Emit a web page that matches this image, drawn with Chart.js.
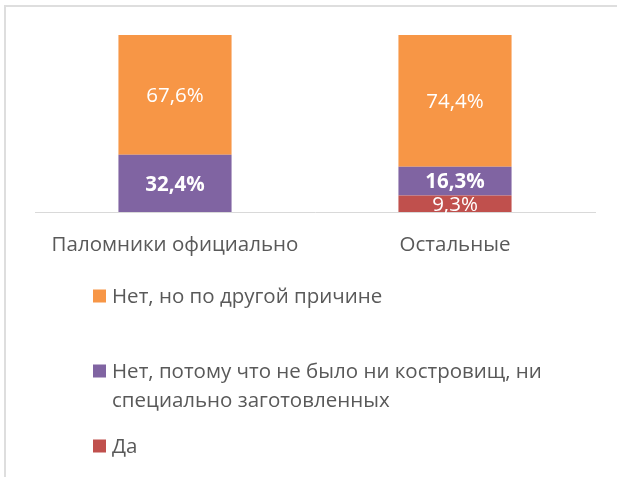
<!DOCTYPE html>
<html>
<head>
<meta charset="utf-8">
<script src="https://cdn.jsdelivr.net/npm/chart.js@4/dist/chart.umd.min.js"></script>
<style>
html,body{margin:0;padding:0;background:#fff;}
#wrap{width:617px;height:477px;position:relative;}
</style>
</head>
<body>
<div id="wrap"><canvas id="c" width="617" height="477"></canvas></div>
<script>
const categories = ['Паломники официально', 'Остальные'];
const seriesNames = ['Да', 'Нет, потому что не было ни костровищ, ни специально заготовленных', 'Нет, но по другой причине'];
const valuesDa = [0, 9.3];
const valuesNoPlaces = [32.4, 16.3];
const valuesOther = [67.6, 74.4];
const legendOrder = [2, 1, 0];

const colors = ['#C0504D', '#8064A2', '#F79646'];
const boldLabels = [false, true, false];
const FONT = '"Open Sans", sans-serif';
const TEXT = '#595959';
const FS = 20.5;

Chart.defaults.font.family = FONT;

const framePlugin = {
  id: 'frame',
  beforeDraw(chart) {
    const ctx = chart.ctx;
    ctx.save();
    ctx.fillStyle = '#fff';
    ctx.fillRect(0, 0, chart.width, chart.height);
    ctx.strokeStyle = '#dedede';
    ctx.lineWidth = 2;
    ctx.beginPath();
    ctx.moveTo(5, chart.height);
    ctx.lineTo(5, 6);
    ctx.lineTo(chart.width, 6);
    ctx.stroke();
    ctx.restore();
  }
};

const labelPlugin = {
  id: 'valueLabels',
  afterDatasetsDraw(chart) {
    const ctx = chart.ctx;
    ctx.save();
    ctx.textAlign = 'center';
    ctx.textBaseline = 'middle';
    ctx.fillStyle = '#ffffff';
    chart.data.datasets.forEach((ds, di) => {
      const meta = chart.getDatasetMeta(di);
      meta.data.forEach((el, i) => {
        const v = ds.data[i];
        if (!v) return;
        const txt = v.toFixed(1).replace('.', ',') + '%';
        ctx.font = (boldLabels[di] ? 'bold ' : '') + FS + 'px ' + FONT;
        const cy = (el.y + el.base) / 2;
        ctx.fillText(txt, el.x, cy + 1.5);
      });
    });
    ctx.restore();
  }
};

const legendPlugin = {
  id: 'customLegend',
  afterDraw(chart) {
    const ctx = chart.ctx;
    ctx.save();
    ctx.font = FS + 'px ' + FONT;
    ctx.textBaseline = 'middle';
    ctx.textAlign = 'left';
    const x0 = 93, tx = 112, y0 = 296, step = 75, lh = 29.5, maxW = 440;
    legendOrder.forEach((di, k) => {
      const ds = chart.data.datasets[di];
      const y = y0 + k * step;
      ctx.fillStyle = ds.backgroundColor;
      ctx.fillRect(x0, y - 6.5, 13, 13);
      ctx.fillStyle = TEXT;
      const words = ds.label.split(' ');
      const lines = [];
      let cur = '';
      words.forEach(w => {
        const t = cur ? cur + ' ' + w : w;
        if (ctx.measureText(t).width > maxW && cur) { lines.push(cur); cur = w; }
        else cur = t;
      });
      if (cur) lines.push(cur);
      lines.forEach((ln, j) => ctx.fillText(ln, tx, y + 1 + j * lh));
    });
    ctx.restore();
  }
};

const seriesData = [valuesDa, valuesNoPlaces, valuesOther];

new Chart(document.getElementById('c'), {
  type: 'bar',
  data: {
    labels: categories,
    datasets: seriesData.map((d, i) => ({
      label: seriesNames[i],
      data: d,
      backgroundColor: colors[i],
      borderWidth: 0,
      barPercentage: 0.404,
      categoryPercentage: 1
    }))
  },
  options: {
    responsive: false,
    animation: false,
    layout: { padding: { left: 35, right: 22, top: 35, bottom: 0 } },
    plugins: { legend: { display: false }, tooltip: { enabled: false } },
    scales: {
      x: {
        stacked: true,
        grid: { display: false, drawTicks: false },
        border: { display: true, color: '#d9d9d9', width: 1 },
        ticks: { color: TEXT, font: { size: FS }, padding: 21 },
        afterFit(scale) { scale.height = 265; }
      },
      y: {
        stacked: true,
        display: false,
        min: 0,
        max: 100
      }
    }
  },
  plugins: [framePlugin, labelPlugin, legendPlugin]
});
</script>
</body>
</html>
